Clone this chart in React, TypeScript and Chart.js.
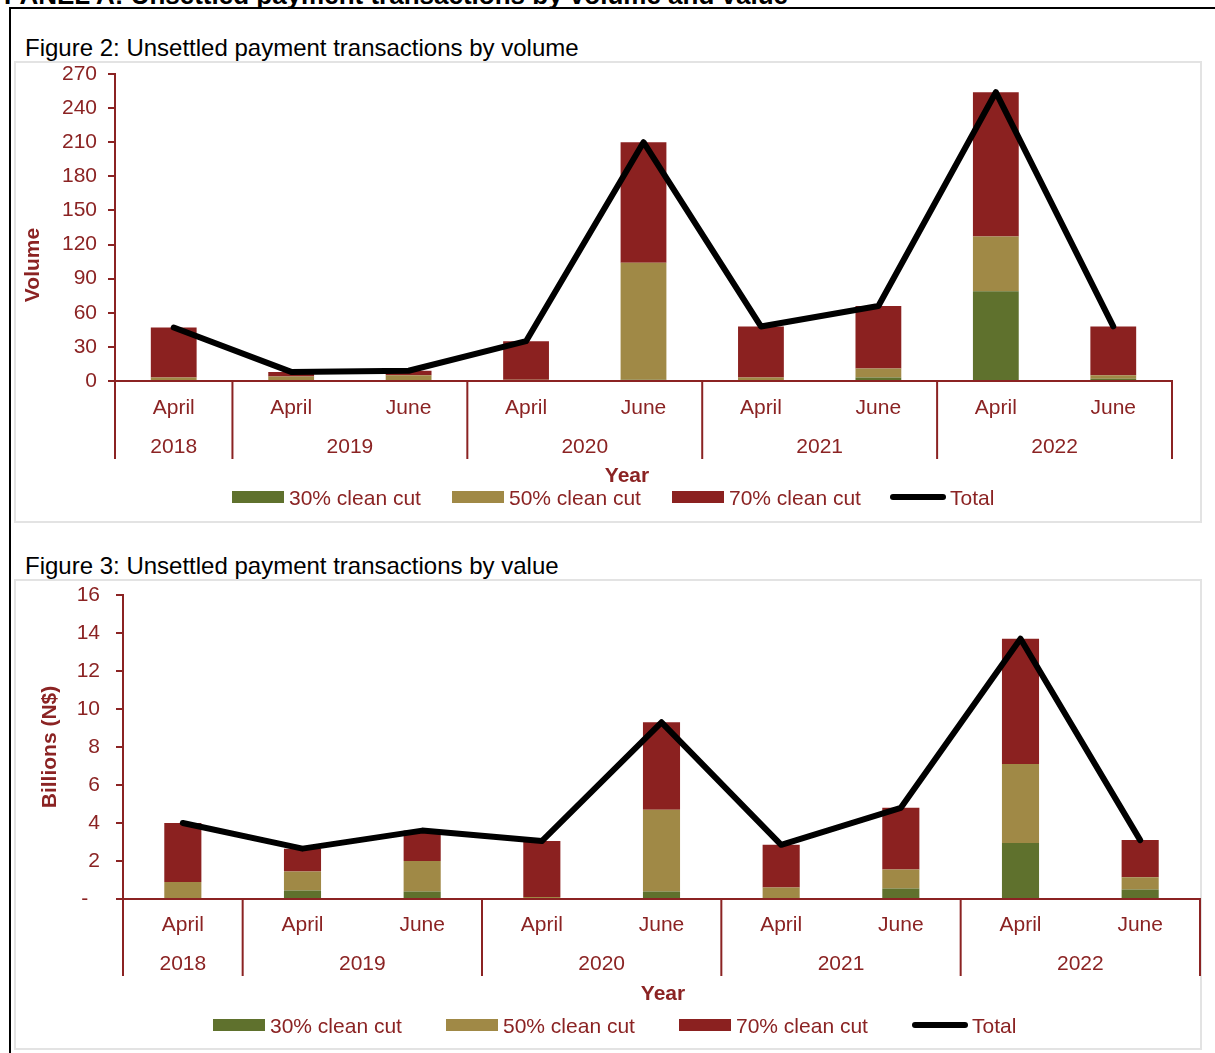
import React, { useEffect, useRef } from "react";
import { Chart, registerables } from "chart.js";

Chart.register(...registerables);

// ---------- data ----------
const months = ["April", "April", "June", "April", "June", "April", "June", "April", "June"];
const years = ["2018", "2019", "2019", "2020", "2020", "2021", "2021", "2022", "2022"];
const seriesNames = ["30% clean cut", "50% clean cut", "70% clean cut"];
const totalName = "Total";

const volume30 = [0, 0, 0, 0, 1, 0, 3, 79, 2];
const volume50 = [3, 4, 5, 1, 103, 3, 8, 48, 3];
const volume70 = [44, 4, 4, 34, 106, 45, 55, 127, 43];
const volumeTotal = [47, 8, 9, 35, 210, 48, 66, 254, 48];
const volumeTicks = [0, 30, 60, 90, 120, 150, 180, 210, 240, 270];
const volumeTickLabels = ["0", "30", "60", "90", "120", "150", "180", "210", "240", "270"];

const value30 = [0, 0.45, 0.4, 0, 0.4, 0, 0.55, 2.95, 0.5];
const value50 = [0.9, 1.0, 1.6, 0.1, 4.3, 0.6, 1.0, 4.15, 0.65];
const value70 = [3.1, 1.2, 1.6, 2.95, 4.6, 2.25, 3.25, 6.6, 1.95];
const valueTotal = [4.0, 2.65, 3.6, 3.05, 9.3, 2.85, 4.8, 13.7, 3.1];
const valueTicks = [0, 2, 4, 6, 8, 10, 12, 14, 16];
const valueTickLabels = ["-  ", "2", "4", "6", "8", "10", "12", "14", "16"];

// ---------- styles ----------
const FONT = '"Liberation Sans", Arial, sans-serif';
const TEXT = "#8B2323";
const GREEN = "#5F712D";
const GOLD = "#A08946";
const RED = "#8B2120";
const seriesColors = [GREEN, GOLD, RED];

type Cfg = {
  left: number;
  top: number;
  width: number;
  height: number;
  yWidth: number;
  xHeight: number;
  padTop: number;
  padRight: number;
  tickPadding: number;
  barPct: number;
  series: number[][];
  total: number[];
  ticks: number[];
  tickLabels: string[];
  yTitle: string;
  yTitleX: number;
  yTitleY: number;
  yearTitleX: number;
  monthOff: number;
  yearOff: number;
  titleOff: number;
  divLen: number;
};

function ChartBox({ cfg }: { cfg: Cfg }) {
  const ref = useRef<HTMLCanvasElement | null>(null);
  useEffect(() => {
    const canvas = ref.current;
    if (!canvas) return;
    const axisPlugin = {
      id: "multiAxis",
      afterDraw(chart: any) {
        const ctx = chart.ctx;
        const xs = chart.scales.x;
        const area = chart.chartArea;
        ctx.save();
        const bounds: number[] = [xs.left];
        for (let i = 1; i < years.length; i++) {
          if (years[i] !== years[i - 1]) {
            bounds.push((xs.getPixelForValue(i - 1) + xs.getPixelForValue(i)) / 2);
          }
        }
        bounds.push(xs.right);
        ctx.strokeStyle = TEXT;
        ctx.lineWidth = 2;
        ctx.beginPath();
        bounds.forEach((x) => {
          ctx.moveTo(x, area.bottom);
          ctx.lineTo(x, area.bottom + cfg.divLen);
        });
        ctx.stroke();
        ctx.fillStyle = TEXT;
        ctx.textAlign = "center";
        ctx.textBaseline = "middle";
        ctx.font = `21px ${FONT}`;
        months.forEach((m, i) => ctx.fillText(m, xs.getPixelForValue(i), area.bottom + cfg.monthOff));
        const groups: string[] = [];
        years.forEach((y, i) => {
          if (i === 0 || y !== years[i - 1]) groups.push(y);
        });
        groups.forEach((g, gi) => {
          ctx.fillText(g, (bounds[gi] + bounds[gi + 1]) / 2, area.bottom + cfg.yearOff);
        });
        ctx.font = `bold 21px ${FONT}`;
        ctx.fillText("Year", cfg.yearTitleX, area.bottom + cfg.titleOff);
        ctx.translate(cfg.yTitleX, cfg.yTitleY);
        ctx.rotate(-Math.PI / 2);
        ctx.fillText(cfg.yTitle, 0, 0);
        ctx.restore();
      },
    };
    const chart = new Chart(canvas, {
      type: "bar",
      data: {
        labels: months.map((m, i) => `${m} ${years[i]}`),
        datasets: [
          ...cfg.series.map((d, i) => ({
            type: "bar" as const,
            label: seriesNames[i],
            data: d,
            backgroundColor: seriesColors[i],
            borderWidth: 0,
            stack: "bars",
            order: 1,
            barPercentage: cfg.barPct,
            categoryPercentage: 1,
          })),
          {
            type: "line" as const,
            label: totalName,
            data: cfg.total,
            borderColor: "#000",
            backgroundColor: "#000",
            borderWidth: 6,
            pointRadius: 0,
            borderCapStyle: "round",
            borderJoinStyle: "round",
            tension: 0,
            stack: "line",
            order: 0,
          } as any,
        ],
      },
      options: {
        responsive: false,
        animation: false,
        devicePixelRatio: 1,
        layout: { padding: { left: 0, right: cfg.padRight, top: cfg.padTop, bottom: 0 } },
        plugins: { legend: { display: false }, tooltip: { enabled: false } },
        scales: {
          x: {
            stacked: true,
            grid: { display: false },
            ticks: { display: false },
            border: { display: true, color: TEXT, width: 2 },
            afterFit: (s: any) => {
              s.height = cfg.xHeight;
              s.paddingLeft = 0;
              s.paddingRight = 0;
            },
          },
          y: {
            stacked: true,
            min: cfg.ticks[0],
            max: cfg.ticks[cfg.ticks.length - 1],
            afterBuildTicks: (s: any) => {
              s.ticks = cfg.ticks.map((v) => ({ value: v }));
            },
            grid: { drawOnChartArea: false, drawTicks: true, tickLength: 7, color: TEXT, lineWidth: 2 },
            border: { display: true, color: TEXT, width: 2 },
            ticks: {
              color: TEXT,
              font: { family: FONT, size: 21 },
              padding: cfg.tickPadding,
              callback: (_v: any, i: number) => cfg.tickLabels[i],
            },
            afterFit: (s: any) => {
              s.width = cfg.yWidth;
              s.paddingTop = 0;
              s.paddingBottom = 0;
            },
          },
        },
      } as any,
      plugins: [axisPlugin],
    });
    return () => chart.destroy();
  }, [cfg]);
  return (
    <canvas
      ref={ref}
      width={cfg.width}
      height={cfg.height}
      style={{ position: "absolute", left: cfg.left, top: cfg.top, width: cfg.width, height: cfg.height }}
    />
  );
}

const cfgVolume: Cfg = {
  left: 15, top: 62, width: 1186, height: 460,
  yWidth: 100, xHeight: 141, padTop: 12, padRight: 29, tickPadding: 11, barPct: 0.39,
  series: [volume30, volume50, volume70], total: volumeTotal,
  ticks: volumeTicks, tickLabels: volumeTickLabels,
  yTitle: "Volume", yTitleX: 18, yTitleY: 203, yearTitleX: 612,
  monthOff: 27, yearOff: 66, titleOff: 95, divLen: 78,
};

const cfgValue: Cfg = {
  left: 15, top: 581, width: 1186, height: 468,
  yWidth: 108, xHeight: 150, padTop: 14, padRight: 1, tickPadding: 16, barPct: 0.31,
  series: [value30, value50, value70], total: valueTotal,
  ticks: valueTicks, tickLabels: valueTickLabels,
  yTitle: "Billions (N$)", yTitleX: 35, yTitleY: 166, yearTitleX: 648,
  monthOff: 26, yearOff: 65, titleOff: 95, divLen: 77,
};

function Legend({ top, xs }: { top: number; xs: number[] }) {
  const items = [...seriesNames, totalName];
  return (
    <>
      {items.map((name, i) => {
        const isLine = i === 3;
        return (
          <React.Fragment key={name}>
            <div
              style={{
                position: "absolute",
                left: xs[i],
                top: isLine ? top + 7 : top + 4,
                width: isLine ? 56 : 52,
                height: isLine ? 6 : 12,
                background: isLine ? "#000" : seriesColors[i],
                borderRadius: isLine ? 3 : 0,
              }}
            />
            <div
              style={{
                position: "absolute",
                left: xs[i] + (isLine ? 60 : 57),
                top: top,
                fontSize: 21,
                lineHeight: "21px",
                color: TEXT,
                whiteSpace: "nowrap",
              }}
            >
              {name}
            </div>
          </React.Fragment>
        );
      })}
    </>
  );
}

export default function App() {
  return (
    <div
      style={{
        position: "absolute",
        left: 0,
        top: 0,
        width: 1215,
        height: 1053,
        background: "#fff",
        overflow: "hidden",
        fontFamily: FONT,
      }}
    >
      <div
        style={{
          position: "absolute",
          left: 4,
          top: -18,
          fontWeight: "bold",
          fontSize: 26,
          lineHeight: "26px",
          whiteSpace: "nowrap",
          color: "#000",
        }}
      >
        PANEL A: Unsettled payment transactions by volume and value
      </div>
      <div style={{ position: "absolute", left: 9, top: 7, width: 1206, height: 2, background: "#000" }} />
      <div style={{ position: "absolute", left: 9, top: 7, width: 2, height: 1046, background: "#000" }} />

      <div style={{ position: "absolute", left: 25, top: 36, fontSize: 24, lineHeight: "24px", whiteSpace: "nowrap", color: "#000" }}>
        Figure 2: Unsettled payment transactions by volume
      </div>
      <div style={{ position: "absolute", left: 14, top: 61, width: 1184, height: 458, border: "2px solid #e3e3e3" }} />
      <ChartBox cfg={cfgVolume} />
      <Legend top={487} xs={[232, 452, 672, 890]} />

      <div style={{ position: "absolute", left: 25, top: 554, fontSize: 24, lineHeight: "24px", whiteSpace: "nowrap", color: "#000" }}>
        Figure 3: Unsettled payment transactions by value
      </div>
      <div style={{ position: "absolute", left: 14, top: 579, width: 1184, height: 467, border: "2px solid #e3e3e3" }} />
      <ChartBox cfg={cfgValue} />
      <Legend top={1015} xs={[213, 446, 679, 912]} />
    </div>
  );
}
